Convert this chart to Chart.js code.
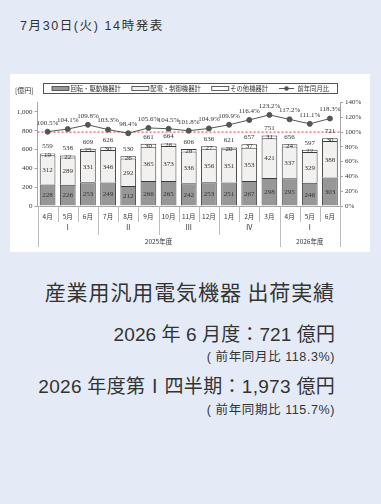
<!DOCTYPE html>
<html>
<head>
<meta charset="utf-8">
<script src="https://cdn.jsdelivr.net/npm/chart.js@4/dist/chart.umd.min.js"></script>
<style>
    body { margin: 0; width: 381px; height: 504px; background: #e4ebf6; position: relative; overflow: hidden;
           font-family: 'Liberation Sans', 'Noto Sans CJK JP', sans-serif; color: #333; }
    .txt { position: absolute; line-height: 1; white-space: nowrap; }
    #date { left: 20px; top: 20px; font-size: 12.5px; letter-spacing: 1.6px; }
    #panel { position: absolute; left: 10px; top: 74px; width: 360px; height: 178px; background: #fff; }
    .r { right: 46px; text-align: right; }
    #title { top: 281px; font-size: 21px; letter-spacing: 0.9px; font-family: 'Noto Sans CJK JP', sans-serif; }
    #month { top: 325px; font-size: 19px; letter-spacing: 0.1px; }
    #monthSub { top: 351px; font-size: 12.5px; letter-spacing: 0.6px; }
    #quarter { top: 377px; font-size: 19px; letter-spacing: 0.3px; }
    #quarterSub { top: 404px; font-size: 12.5px; letter-spacing: 0.6px; }
</style>
</head>
<body>
<div id="date" class="txt">7月30日(火) 14時発表</div>
<div id="panel"><canvas id="chart" width="360" height="178"></canvas></div>
<div id="title" class="txt r">産業用汎用電気機器 出荷実績</div>
<div id="month" class="txt r">2026 年 6 月度：721 億円</div>
<div id="monthSub" class="txt r">( 前年同月比 118.3%)</div>
<div id="quarter" class="txt r">2026 年度第Ⅰ四半期：1,973 億円</div>
<div id="quarterSub" class="txt r">( 前年同期比 115.7%)</div>

<script>
// Chart data
const months = ['4月', '5月', '6月', '7月', '8月', '9月', '10月', '11月', '12月', '1月', '2月', '3月', '4月', '5月', '6月'];
const quarters = ['Ⅰ', 'Ⅱ', 'Ⅲ', 'Ⅳ', 'Ⅰ'];
const quarterSpans = [3, 3, 3, 3, 3];
const fiscalYears = ['2025年度', '2026年度'];
const fiscalYearSpans = [12, 3];

const rotating = [228, 226, 253, 249, 212, 266, 265, 242, 253, 251, 267, 298, 295, 246, 303];
const distribution = [312, 289, 331, 346, 292, 365, 373, 336, 356, 351, 353, 421, 337, 329, 388];
const others = [19, 22, 25, 30, 26, 30, 26, 28, 27, 20, 37, 31, 24, 22, 30];
const totals = [559, 538, 609, 626, 530, 661, 664, 606, 636, 621, 657, 751, 656, 597, 721];
const yoyRatio = [100.5, 104.1, 109.8, 103.3, 98.4, 105.6, 104.5, 101.8, 104.9, 109.9, 116.4, 123.2, 117.2, 111.1, 118.3];

const NUM_FONT = "'Liberation Serif', 'Noto Sans CJK JP', serif";
const JP_FONT = "'Noto Sans CJK JP', sans-serif";
const TEXT = '#333';
const EDGE = '#3c3c3c';

// Labels, separators, reference line and boxed legend
const decorations = {
    id: 'decorations',
    beforeDatasetsDraw(chart) {
        const { ctx, chartArea } = chart;
        const y100 = chart.scales.y2.getPixelForValue(100);
        ctx.save();
        ctx.strokeStyle = '#e8333a';
        ctx.lineWidth = 1;
        ctx.setLineDash([2, 2]);
        ctx.beginPath();
        ctx.moveTo(chartArea.left, y100);
        ctx.lineTo(chartArea.right, y100);
        ctx.stroke();
        ctx.restore();
    },
    afterDraw(chart) {
        const { ctx, chartArea } = chart;
        const x = chart.scales.x;
        ctx.save();

        // Values inside bar segments
        ctx.fillStyle = TEXT;
        ctx.textAlign = 'center';
        ctx.textBaseline = 'middle';
        ctx.font = `7px ${NUM_FONT}`;
        [0, 1, 2].forEach(di => {
            const meta = chart.getDatasetMeta(di);
            meta.data.forEach((bar, i) => {
                const v = chart.data.datasets[di].data[i];
                ctx.fillText(v, bar.x, (bar.y + bar.base) / 2 + 0.5);
            });
        });

        // Totals above bars
        const topMeta = chart.getDatasetMeta(2);
        topMeta.data.forEach((bar, i) => {
            ctx.fillText(totals[i], bar.x, bar.y - 7);
        });

        // Ratio labels above points
        const lineMeta = chart.getDatasetMeta(3);
        lineMeta.data.forEach((pt, i) => {
            ctx.fillText(yoyRatio[i].toFixed(1) + '%', pt.x, pt.y - 9);
        });

        // Category separators and group labels
        const edge = i => x.getPixelForValue(i) - (x.getPixelForValue(1) - x.getPixelForValue(0)) / 2;
        const bottom = chartArea.bottom;
        const qEnds = [], yEnds = [];
        quarterSpans.reduce((a, n) => { qEnds.push(a + n); return a + n; }, 0);
        fiscalYearSpans.reduce((a, n) => { yEnds.push(a + n); return a + n; }, 0);
        ctx.strokeStyle = '#bdbdbd';
        ctx.lineWidth = 1;
        for (let i = 0; i <= months.length; i++) {
            let len = 16;
            if (qEnds.includes(i)) len = 29;
            if (i === 0 || yEnds.includes(i)) len = 41;
            const px = Math.round(edge(i)) + 0.5;
            ctx.beginPath();
            ctx.moveTo(px, bottom);
            ctx.lineTo(px, bottom + len);
            ctx.stroke();
        }

        ctx.font = `6.5px ${JP_FONT}`;
        months.forEach((m, i) => ctx.fillText(m, x.getPixelForValue(i), bottom + 10.5));
        ctx.font = `7px ${NUM_FONT}`;
        let start = 0;
        quarters.forEach((q, k) => {
            const mid = (edge(start) + edge(start + quarterSpans[k])) / 2;
            ctx.fillText(q, mid, bottom + 22.5);
            start += quarterSpans[k];
        });
        ctx.font = `6.5px ${JP_FONT}`;
        start = 0;
        fiscalYears.forEach((fy, k) => {
            const mid = (edge(start) + edge(start + fiscalYearSpans[k])) / 2;
            ctx.fillText(fy, mid, bottom + 35.5);
            start += fiscalYearSpans[k];
        });

        // Unit label
        ctx.textAlign = 'left';
        ctx.font = `7px ${JP_FONT}`;
        ctx.fillText('[億円]', 5, 16.5);

        // Boxed legend
        const box = { left: 33.5, top: 9.5, right: 327.5, bottom: 19.5 };
        ctx.strokeStyle = '#555';
        ctx.strokeRect(box.left, box.top, box.right - box.left, box.bottom - box.top);
        ctx.font = `6.3px ${JP_FONT}`;
        const items = chart.data.datasets.map(ds => ({ ds, w: 17 + 1.5 + ctx.measureText(ds.label).width }));
        const gap = 11;
        const total = items.reduce((s, it) => s + it.w, 0) + gap * (items.length - 1);
        let lx = (box.left + box.right) / 2 - total / 2;
        const ly = (box.top + box.bottom) / 2;
        items.forEach(it => {
            const ds = it.ds;
            if (ds.type === 'line') {
                ctx.strokeStyle = ds.borderColor;
                ctx.beginPath();
                ctx.moveTo(lx, ly);
                ctx.lineTo(lx + 15, ly);
                ctx.stroke();
                ctx.fillStyle = ds.pointBackgroundColor;
                ctx.beginPath();
                ctx.arc(lx + 7.5, ly, 2.3, 0, Math.PI * 2);
                ctx.fill();
            } else {
                ctx.fillStyle = ds.backgroundColor;
                ctx.fillRect(lx, ly - 2, 17, 4);
                ctx.strokeStyle = EDGE;
                ctx.lineWidth = 0.8;
                ctx.strokeRect(lx, ly - 2, 17, 4);
                ctx.lineWidth = 1;
            }
            ctx.fillStyle = TEXT;
            ctx.fillText(ds.label, lx + 18.5, ly + 0.5);
            lx += it.w + gap;
        });
        ctx.restore();
    }
};

const axisStyle = {
    grid: { display: true, drawOnChartArea: false, drawTicks: true, tickLength: 3, color: '#a6a6a6' },
    border: { display: true, color: '#a6a6a6' }
};

new Chart(document.getElementById('chart'), {
    data: {
        labels: months,
        datasets: [
            { type: 'bar', label: '回転・駆動機器計', data: rotating, backgroundColor: '#979797',
              borderColor: EDGE, borderWidth: 1, stack: 's', order: 1 },
            { type: 'bar', label: '配電・制御機器計', data: distribution, backgroundColor: '#f2f1ef',
              borderColor: EDGE, borderWidth: 1, stack: 's', order: 1 },
            { type: 'bar', label: 'その他機器計', data: others, backgroundColor: '#ffffff',
              borderColor: EDGE, borderWidth: 1, stack: 's', order: 1 },
            { type: 'line', label: '前年同月比', data: yoyRatio, yAxisID: 'y2', borderColor: '#555555',
              borderWidth: 1, pointBackgroundColor: '#555555', pointBorderColor: '#555555',
              pointRadius: 2.5, order: 0 }
        ]
    },
    options: {
        responsive: false,
        animation: false,
        devicePixelRatio: 1,
        layout: { padding: { top: 28.5, left: 0, right: 0, bottom: 0 } },
        datasets: { bar: { categoryPercentage: 1, barPercentage: 0.78 } },
        plugins: { legend: { display: false }, tooltip: { enabled: false } },
        scales: {
            x: {
                stacked: true,
                grid: { display: false },
                border: { display: true, color: '#a6a6a6' },
                ticks: { display: false },
                afterFit: s => { s.height = 46; }
            },
            y: {
                ...axisStyle,
                stacked: true,
                min: 0, max: 1100,
                ticks: { stepSize: 100, padding: 2, color: TEXT, font: { size: 7, family: NUM_FONT },
                         callback: v => v.toLocaleString('en-US') },
                afterFit: s => { s.width = 27.5; }
            },
            y2: {
                ...axisStyle,
                position: 'right',
                min: 0, max: 140,
                ticks: { stepSize: 20, padding: 2, color: TEXT, font: { size: 7, family: NUM_FONT },
                         callback: v => v + '%' },
                afterFit: s => { s.width = 30; }
            }
        }
    },
    plugins: [decorations]
});
</script>
</body>
</html>
